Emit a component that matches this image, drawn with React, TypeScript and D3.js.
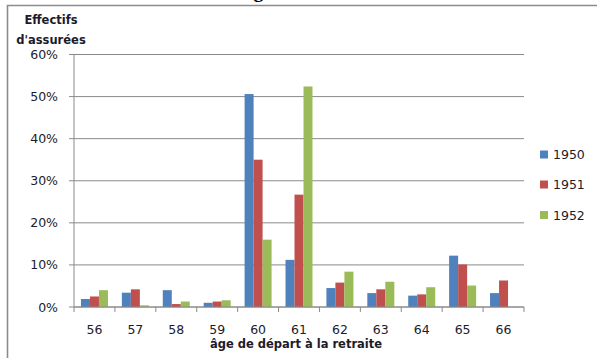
import React from "react";
import * as d3 from "d3";

const categories = ["56", "57", "58", "59", "60", "61", "62", "63", "64", "65", "66"];
const seriesNames = ["1950", "1951", "1952"];
const values1950 = [1.9, 3.4, 4.0, 1.0, 50.6, 11.2, 4.5, 3.3, 2.7, 12.2, 3.3];
const values1951 = [2.5, 4.2, 0.7, 1.3, 35.0, 26.7, 5.8, 4.2, 3.0, 10.1, 6.3];
const values1952 = [4.0, 0.4, 1.3, 1.6, 16.0, 52.4, 8.4, 6.0, 4.7, 5.1, 0];
const yTicks = [0, 10, 20, 30, 40, 50, 60];
const colors = ["#4F81BD", "#C0504D", "#9BBB59"];

const seriesValues = [values1950, values1951, values1952];

export default function App() {
  const W = 597;
  const H = 358;
  const x0 = 74;
  const x1 = 524;
  const yBottom = 307;
  const yTop = 54.5;

  const x = d3.scaleBand<string>().domain(categories).range([x0, x1]).paddingInner(0.34).paddingOuter(0.17);
  const step = (x1 - x0) / categories.length;
  const xs = d3.scaleBand<string>().domain(seriesNames).range([0, x.bandwidth()]);
  const y = d3.scaleLinear().domain([0, 60]).range([yBottom, yTop]);

  const font = "'DejaVu Sans', sans-serif";
  const textColor = "#1b1b2b";
  const gridColor = "#8a8a8a";

  return (
    <svg width={W} height={H} style={{ position: "absolute", left: 0, top: 0, background: "#fff" }}>
      {/* clipped text from above */}
      <text x={20} y={-3} fontFamily="'Liberation Serif', serif" fontWeight="bold" fontSize={20} fill="#000">
        nombre d'assurées selon l'âge
      </text>
      {/* outer border */}
      <line x1={7} x2={W} y1={5.5} y2={5.5} stroke="#8c8c8c" strokeWidth={1.6} />
      <line x1={7.5} x2={7.5} y1={5} y2={H} stroke="#8c8c8c" strokeWidth={1.6} />

      {/* gridlines and y ticks */}
      {yTicks.map((t) => (
        <g key={t}>
          <line x1={x0 - 5} x2={x1} y1={y(t)} y2={y(t)} stroke={gridColor} strokeWidth={1} />
          <text
            x={58}
            y={y(t)}
            dy="0.36em"
            textAnchor="end"
            fontFamily={font}
            fontSize={12.5}
            fill={textColor}
          >
            {t}%
          </text>
        </g>
      ))}
      {/* y axis */}
      <line x1={x0} x2={x0} y1={y(60)} y2={yBottom} stroke={gridColor} strokeWidth={1} />

      {/* bars */}
      {categories.map((c, i) => (
        <g key={c}>
          {seriesNames.map((s, j) => {
            const v = seriesValues[j][i];
            if (v <= 0) return null;
            return (
              <rect
                key={s}
                x={(x(c) as number) + (xs(s) as number)}
                y={y(v)}
                width={xs.bandwidth()}
                height={yBottom - y(v)}
                fill={colors[j]}
              />
            );
          })}
        </g>
      ))}

      {/* x axis */}
      <line x1={x0} x2={x1} y1={yBottom} y2={yBottom} stroke={gridColor} strokeWidth={1} />
      {d3.range(categories.length + 1).map((i) => (
        <line
          key={i}
          x1={x0 + i * step}
          x2={x0 + i * step}
          y1={yBottom}
          y2={yBottom + 5}
          stroke={gridColor}
          strokeWidth={1}
        />
      ))}
      {categories.map((c) => (
        <text
          key={c}
          x={(x(c) as number) + x.bandwidth() / 2}
          y={329}
          dy="0.36em"
          textAnchor="middle"
          fontFamily={font}
          fontSize={12.5}
          fill={textColor}
        >
          {c}
        </text>
      ))}
      <text
        x={296}
        y={344}
        dy="0.36em"
        textAnchor="middle"
        fontFamily={font}
        fontWeight="bold"
        fontSize={11.5}
        fill={textColor}
      >
        âge de départ à la retraite
      </text>

      {/* y title */}
      <text x={51} y={20} dy="0.36em" textAnchor="middle" fontFamily={font} fontWeight="bold" fontSize={11.5} fill={textColor}>
        Effectifs
      </text>
      <text x={51} y={40} dy="0.36em" textAnchor="middle" fontFamily={font} fontWeight="bold" fontSize={11.5} fill={textColor}>
        d'assurées
      </text>

      {/* legend */}
      {seriesNames.map((s, j) => {
        const cy = [154.5, 184.5, 215][j];
        return (
          <g key={s}>
            <rect x={540} y={cy - 4} width={8} height={8} fill={colors[j]} />
            <text x={553} y={cy} dy="0.36em" fontFamily={font} fontSize={12.5} fill={textColor}>
              {s}
            </text>
          </g>
        );
      })}
    </svg>
  );
}
